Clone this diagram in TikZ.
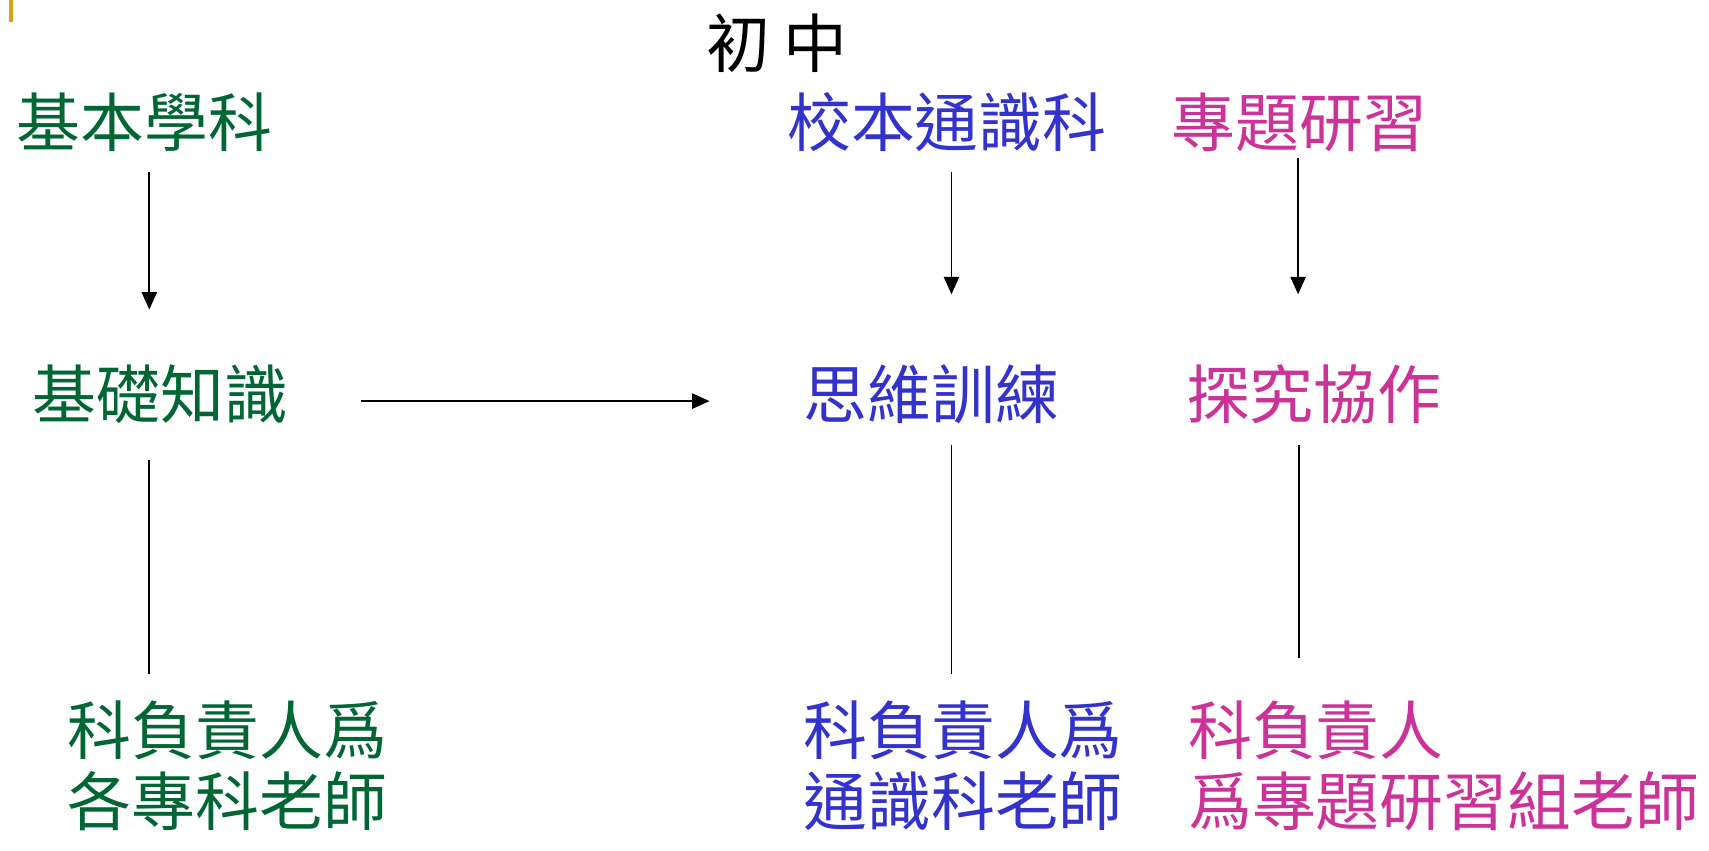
\documentclass[tikz,border=0pt]{standalone}
\usepackage{fontspec}
\newfontfamily\cjk{Noto Sans CJK TC}
\usetikzlibrary{arrows.meta}
\definecolor{cgreen}{RGB}{0,102,51}
\definecolor{cblue}{RGB}{51,51,204}
\definecolor{cmag}{RGB}{204,51,153}
\definecolor{cgold}{RGB}{214,164,20}
\begin{document}
\begin{tikzpicture}[x=1pt,y=-1pt,
  lbl/.style={inner sep=0pt,anchor=west,font=\cjk\fontsize{58.6}{65}\selectfont,align=left},
  arr/.style={line width=1.6pt,-{Triangle[length=16pt,width=14pt]}},
  ln/.style={line width=1.6pt}]
\useasboundingbox (0,0) rectangle (1568,780);
\fill[cgold] (8,0) rectangle (12,20);
\node[lbl,anchor=center] (title) at (713,40) {初\hspace{12pt}中};
\node[lbl,text=cgreen] (jbxk) at (15,112) {基本學科};
\node[lbl,text=cblue] (xbtsk) at (722,112) {校本通識科};
\node[lbl,text=cmag] (ztyx) at (1075,112) {專題研習};
\node[lbl,text=cgreen] (jczs) at (30,362) {基礎知識};
\node[lbl,text=cblue] (swxl) at (737,362) {思維訓練};
\node[lbl,text=cmag] (tjxz) at (1088,362) {探究協作};
\node[lbl,text=cgreen,anchor=north west] (fz1) at (62,680-37) {科負責人爲\\各專科老師};
\node[lbl,text=cblue,anchor=north west] (fz2) at (737,680-37) {科負責人爲\\通識科老師};
\node[lbl,text=cmag,anchor=north west] (fz3) at (1090,680-37) {科負責人\\爲專題研習組老師};
\coordinate (a1s) at (137,158); \coordinate (a1e) at (137,284);
\coordinate (a2s) at (873,158); \coordinate (a2e) at (873,270);
\coordinate (a3s) at (1191,145); \coordinate (a3e) at (1191,270);
\coordinate (hs) at (331,368); \coordinate (he) at (651,368);
\coordinate (l1s) at (137,422); \coordinate (l1e) at (137,618);
\coordinate (l2s) at (873,408); \coordinate (l2e) at (873,618);
\coordinate (l3s) at (1192,408); \coordinate (l3e) at (1192,604);
\draw[arr] (a1s) -- (a1e);
\draw[arr] (a2s) -- (a2e);
\draw[arr] (a3s) -- (a3e);
\draw[arr] (hs) -- (he);
\draw[ln] (l1s) -- (l1e);
\draw[ln] (l2s) -- (l2e);
\draw[ln] (l3s) -- (l3e);
\end{tikzpicture}
\end{document}
